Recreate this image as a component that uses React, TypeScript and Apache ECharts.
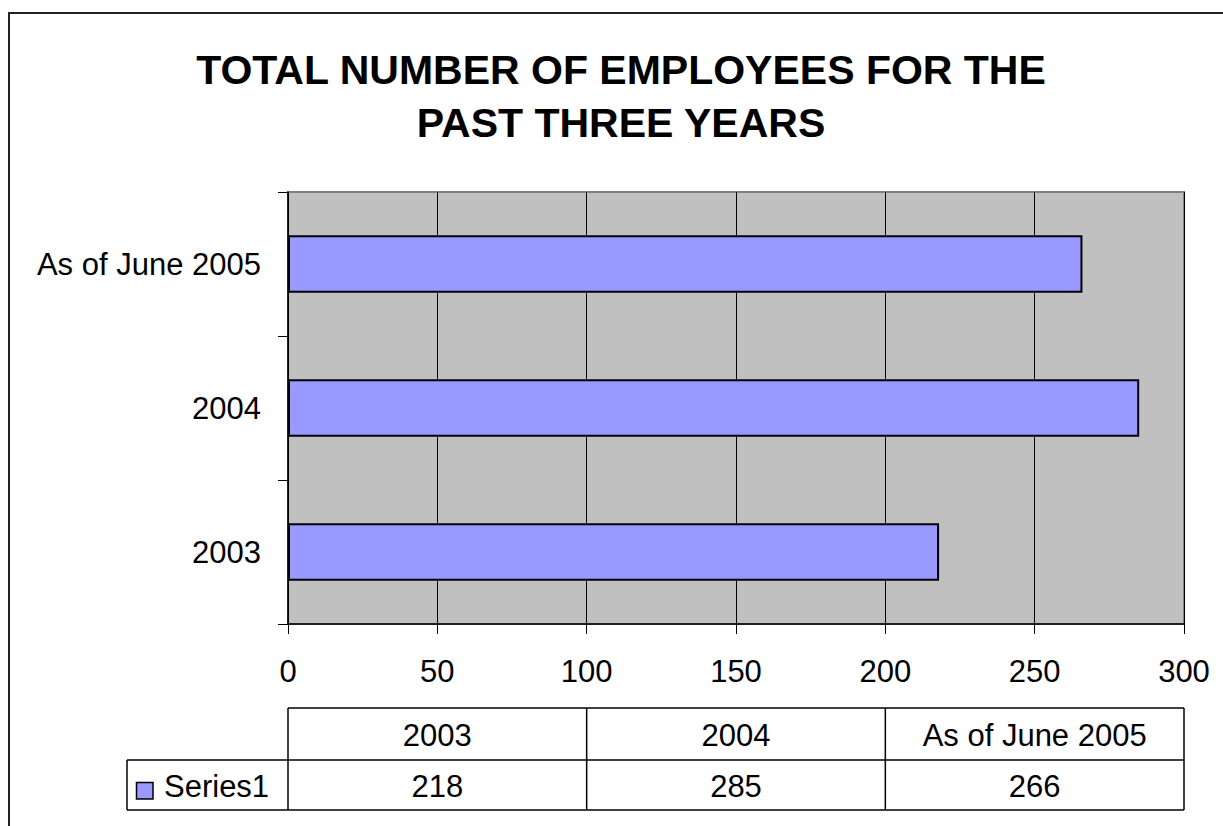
import React, { useEffect, useRef } from "react";
import * as echarts from "echarts";

const TITLE_LINES = ["TOTAL NUMBER OF EMPLOYEES FOR THE", "PAST THREE YEARS"];
const CATEGORIES = ["2003", "2004", "As of June 2005"];
const SERIES_NAME = "Series1";
const VALUES = [218, 285, 266];
const X_MIN = 0;
const X_MAX = 300;
const X_STEP = 50;

const FONT = "'Liberation Sans', Arial, Helvetica, sans-serif";
const BAR_COLOR = "#9999FF";
const FS = 31;

// layout (pixels)
const W = 1223;
const H = 826;
const G_LEFT = 288;
const G_RIGHT = 1184;
const G_TOP = 192;
const G_BOTTOM = 624;
const T_TOP = 708;
const T_MID = 760;
const T_BOT = 810;
const T_LEFT = 127;

export default function App() {
  const ref = useRef<HTMLDivElement>(null);
  useEffect(() => {
    if (!ref.current) return;
    const chart = echarts.init(ref.current, undefined, { renderer: "svg" });
    const colW = (G_RIGHT - G_LEFT) / CATEGORIES.length;
    const lineStyle = { stroke: "#000", lineWidth: 1.5 };
    const table: any[] = [];
    const hl = (x1: number, x2: number, y: number) =>
      table.push({ type: "line", shape: { x1, y1: y, x2, y2: y }, style: lineStyle, silent: true });
    const vl = (x: number, y1: number, y2: number) =>
      table.push({ type: "line", shape: { x1: x, y1, x2: x, y2 }, style: lineStyle, silent: true });
    hl(G_LEFT, G_RIGHT, T_TOP);
    hl(T_LEFT, G_RIGHT, T_MID);
    hl(T_LEFT, G_RIGHT, T_BOT);
    vl(T_LEFT, T_MID, T_BOT);
    for (let i = 0; i <= CATEGORIES.length; i++) vl(G_LEFT + i * colW, T_TOP, T_BOT);
    CATEGORIES.forEach((c, i) => {
      const cx = G_LEFT + (i + 0.5) * colW;
      table.push({
        type: "text",
        x: cx,
        y: (T_TOP + T_MID) / 2 + 1,
        style: { text: c, font: `${FS}px ${FONT}`, fill: "#000", textAlign: "center", textVerticalAlign: "middle" },
      });
      table.push({
        type: "text",
        x: cx,
        y: (T_MID + T_BOT) / 2 + 1,
        style: { text: String(VALUES[i]), font: `${FS}px ${FONT}`, fill: "#000", textAlign: "center", textVerticalAlign: "middle" },
      });
    });
    table.push({
      type: "rect",
      shape: { x: 136.5, y: 782.5, width: 16.5, height: 16.5 },
      style: { fill: BAR_COLOR, stroke: "#000", lineWidth: 1.5 },
    });
    table.push({
      type: "text",
      x: 164,
      y: (T_MID + T_BOT) / 2 + 1,
      style: { text: SERIES_NAME, font: `${FS}px ${FONT}`, fill: "#000", textAlign: "left", textVerticalAlign: "middle" },
    });

    chart.setOption({
      animation: false,
      backgroundColor: "#fff",
      title: {
        text: TITLE_LINES.join("\n"),
        left: 616,
        top: 39,
        textAlign: "center",
        textStyle: { fontFamily: FONT, fontSize: 41, fontWeight: "bold", color: "#000", lineHeight: 52.5 },
      },
      grid: {
        left: G_LEFT,
        right: W - G_RIGHT,
        top: G_TOP,
        bottom: H - G_BOTTOM,
        show: true,
        backgroundColor: "#C0C0C0",
        borderColor: "#808080",
        borderWidth: 2,
        containLabel: false,
      },
      xAxis: {
        type: "value",
        min: X_MIN,
        max: X_MAX,
        interval: X_STEP,
        axisLine: { show: true, lineStyle: { color: "#000", width: 1.5 } },
        axisTick: { show: true, length: 10, lineStyle: { color: "#000", width: 1 } },
        splitLine: { show: true, lineStyle: { color: "#000", width: 1 } },
        axisLabel: { fontFamily: FONT, fontSize: FS, color: "#000", margin: 32 },
      },
      yAxis: {
        type: "category",
        data: CATEGORIES,
        axisLine: { show: true, lineStyle: { color: "#000", width: 1.5 } },
        axisTick: { show: true, length: 10, lineStyle: { color: "#000", width: 1 } },
        splitLine: { show: false },
        axisLabel: { fontFamily: FONT, fontSize: FS, color: "#000", margin: 27 },
      },
      series: [
        {
          name: SERIES_NAME,
          type: "bar",
          data: VALUES,
          barCategoryGap: "60%",
          itemStyle: { color: BAR_COLOR, borderColor: "#000", borderWidth: 2 },
        },
      ],
      graphic: [
        {
          type: "rect",
          shape: { x: 9, y: 13, width: W + 20, height: H + 20 },
          style: { fill: "none", stroke: "#222", lineWidth: 2 },
          silent: true,
          z: 100,
        },
        ...table,
      ],
    });
    return () => chart.dispose();
  }, []);
  return (
    <div
      ref={ref}
      style={{ position: "absolute", left: 0, top: 0, width: W, height: H, background: "#fff" }}
    />
  );
}
